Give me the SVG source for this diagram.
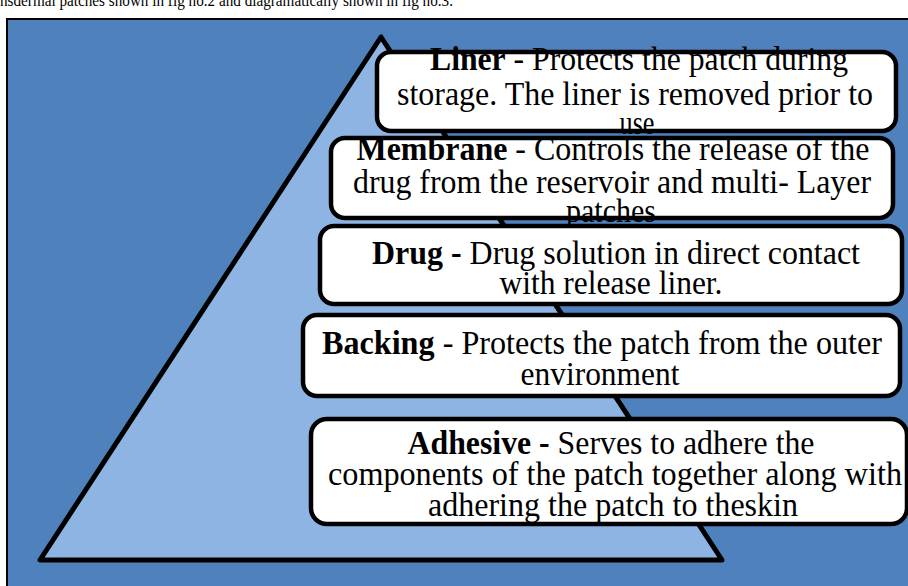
<svg xmlns="http://www.w3.org/2000/svg" width="908" height="586" viewBox="0 0 908 586">
  <style>
    .cap { font-family: "Liberation Serif", "Times New Roman", serif; font-size: 16px; fill: #000; }
    .lbl { font-family: "Liberation Serif", "Times New Roman", serif; font-size: 33px; fill: #000; text-anchor: middle; }
    .lbl .b { font-weight: bold; }
    .box { fill: #fff; stroke: none; }
    .edge { fill: none; stroke: #000; stroke-width: 4.5; }
  </style>

  <!-- page background and caption -->
  <rect x="0" y="0" width="908" height="586" fill="#fff"/>
  <text class="cap" x="0" y="6" textLength="453" lengthAdjust="spacingAndGlyphs">nsdermal patches shown in fig no.2 and diagramatically shown in fig no.3.</text>

  <!-- figure frame -->
  <rect id="frame" x="7" y="19" width="905" height="572" fill="#4F81BD" stroke="#000" stroke-width="2"/>

  <!-- pyramid -->
  <g id="pyramid">
    <polygon points="381,37 40,560 722,560" fill="#8EB4E3" stroke="#000" stroke-width="5" stroke-linejoin="round"/>
  </g>

  <g id="connectors"></g>

  <!-- layer: liner -->
  <g id="liner">
    <rect class="box" x="377" y="52" width="519" height="79" rx="14"/>
    <text class="lbl" x="639" y="70" textLength="418" lengthAdjust="spacingAndGlyphs"><tspan class="b">Liner</tspan> - Protects the patch during</text>
    <text class="lbl" x="635" y="105" textLength="476" lengthAdjust="spacingAndGlyphs">storage. The liner is removed prior to</text>
    <text class="lbl" x="637" y="134" textLength="35" lengthAdjust="spacingAndGlyphs">use</text>
    <rect class="edge" x="377" y="52" width="519" height="79" rx="14"/>
  </g>

  <!-- layer: membrane -->
  <g id="membrane">
    <rect class="box" x="331" y="138" width="562" height="80" rx="14"/>
    <text class="lbl" x="613" y="160" textLength="513" lengthAdjust="spacingAndGlyphs"><tspan class="b">Membrane</tspan> - Controls the release of the</text>
    <text class="lbl" x="612" y="193" textLength="518" lengthAdjust="spacingAndGlyphs">drug from the reservoir and multi- Layer</text>
    <text class="lbl" x="611" y="222" textLength="90" lengthAdjust="spacingAndGlyphs">patches</text>
    <rect class="edge" x="331" y="138" width="562" height="80" rx="14"/>
  </g>

  <!-- layer: drug -->
  <g id="drug">
    <rect class="box" x="320" y="226" width="582" height="78" rx="14"/>
    <text class="lbl" x="616" y="264" textLength="488" lengthAdjust="spacingAndGlyphs"><tspan class="b">Drug -</tspan> Drug solution in direct contact</text>
    <text class="lbl" x="611" y="294" textLength="223" lengthAdjust="spacingAndGlyphs">with release liner.</text>
    <rect class="edge" x="320" y="226" width="582" height="78" rx="14"/>
  </g>

  <!-- layer: backing -->
  <g id="backing">
    <rect class="box" x="303" y="315" width="597" height="81" rx="14"/>
    <text class="lbl" x="602" y="354" textLength="560" lengthAdjust="spacingAndGlyphs"><tspan class="b">Backing</tspan> - Protects the patch from the outer</text>
    <text class="lbl" x="600" y="385" textLength="159" lengthAdjust="spacingAndGlyphs">environment</text>
    <rect class="edge" x="303" y="315" width="597" height="81" rx="14"/>
  </g>

  <!-- layer: adhesive -->
  <g id="adhesive">
    <rect class="box" x="311" y="419" width="596" height="105" rx="16"/>
    <text class="lbl" x="611" y="454" textLength="407" lengthAdjust="spacingAndGlyphs"><tspan class="b">Adhesive -</tspan> Serves to adhere the</text>
    <text class="lbl" x="615" y="485" textLength="574" lengthAdjust="spacingAndGlyphs">components of the patch together along with</text>
    <text class="lbl" x="613" y="516" textLength="370" lengthAdjust="spacingAndGlyphs">adhering the patch to theskin</text>
    <rect class="edge" x="311" y="419" width="596" height="105" rx="16"/>
  </g>
</svg>
